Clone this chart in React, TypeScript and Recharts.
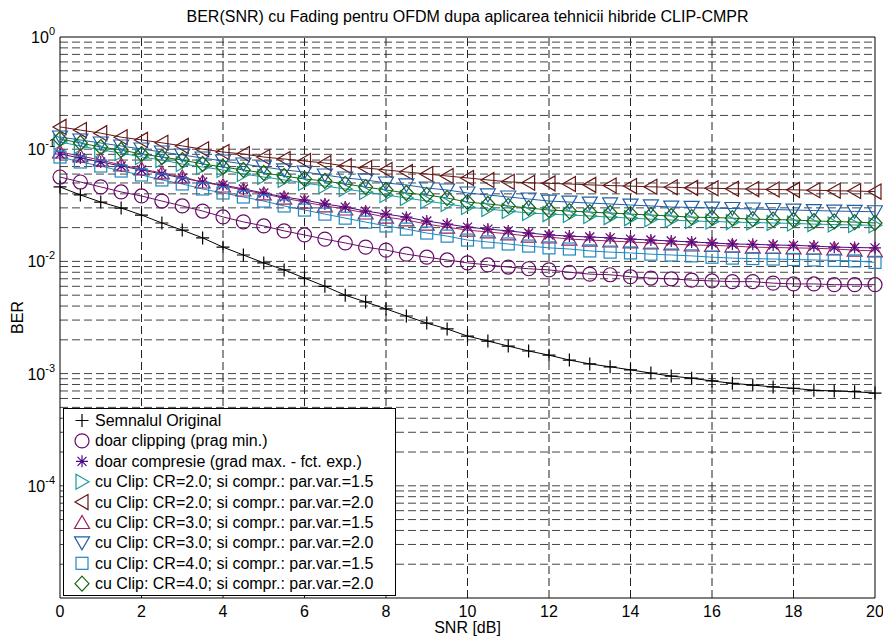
import { Legend, Line, LineChart, ReferenceLine, XAxis, YAxis } from "recharts";

const FONT = '"Liberation Sans", Arial, sans-serif';

// SNR [dB]
const snr = [
  0, 0.5, 1, 1.5, 2, 2.5, 3, 3.5, 4, 4.5, 5, 5.5, 6, 6.5, 7, 7.5, 8, 8.5, 9, 9.5, 10,
  10.5, 11, 11.5, 12, 12.5, 13, 13.5, 14, 14.5, 15, 15.5, 16, 16.5, 17, 17.5, 18, 18.5, 19, 19.5, 20,
];

const original = [
  0.0461, 0.0391, 0.0338, 0.0299, 0.0259, 0.022, 0.019, 0.0162, 0.0134, 0.0114, 0.0097, 0.0084, 0.0071, 0.006,
  0.005, 0.00435, 0.00377, 0.00326, 0.00282, 0.0025, 0.00216, 0.00195, 0.00176, 0.00159, 0.00146, 0.00132,
  0.00122, 0.00115, 0.00108, 0.00101, 0.00095, 0.00091, 0.00086, 0.00082, 0.00079, 0.00076, 0.00074, 0.00071,
  0.0007, 0.00069, 0.00067,
];
const clipping = [
  0.0565, 0.051, 0.0461, 0.0416, 0.0383, 0.0345, 0.0312, 0.0281, 0.0249, 0.0225, 0.0207, 0.0187, 0.0172, 0.0158,
  0.0146, 0.0134, 0.0126, 0.0116, 0.0109, 0.0103, 0.0097, 0.0093, 0.0089, 0.0086, 0.0084, 0.008, 0.0077, 0.0076,
  0.0073, 0.0071, 0.007, 0.0068, 0.0067, 0.0066, 0.0066, 0.0064, 0.0063, 0.0063, 0.0062, 0.0062, 0.0062,
];
const compresie = [
  0.0906, 0.0835, 0.0769, 0.0708, 0.0653, 0.0601, 0.0554, 0.051, 0.048, 0.0442, 0.0407, 0.0375, 0.0352, 0.0325,
  0.0305, 0.0281, 0.0264, 0.0248, 0.0229, 0.0215, 0.0202, 0.0194, 0.0187, 0.0179, 0.0172, 0.0168, 0.0165, 0.0162,
  0.0158, 0.0155, 0.0152, 0.0149, 0.0146, 0.0143, 0.0142, 0.014, 0.0139, 0.0137, 0.0134, 0.0133, 0.0132,
];
const cr2v15 = [
  0.1159, 0.1068, 0.0984, 0.0925, 0.0852, 0.0801, 0.0738, 0.0694, 0.0653, 0.0601, 0.0565, 0.0532, 0.05, 0.047,
  0.0442, 0.0415, 0.0391, 0.0367, 0.0345, 0.0325, 0.0305, 0.0293, 0.0281, 0.027, 0.0264, 0.0259, 0.0254, 0.0248,
  0.0243, 0.0238, 0.0234, 0.0229, 0.0227, 0.0224, 0.0222, 0.022, 0.0218, 0.0215, 0.0213, 0.0211, 0.021,
];
const cr2v20 = [
  0.158, 0.148, 0.139, 0.128, 0.121, 0.114, 0.107, 0.1, 0.0944, 0.0906, 0.0852, 0.0818, 0.0785, 0.0753, 0.0708,
  0.068, 0.0653, 0.0626, 0.0601, 0.0577, 0.0554, 0.0532, 0.0512, 0.0502, 0.0496, 0.049, 0.0481, 0.0474, 0.0469,
  0.0462, 0.0458, 0.0452, 0.0449, 0.0444, 0.0441, 0.0438, 0.0434, 0.0431, 0.0426, 0.0424, 0.0419,
];
const cr3v15 = [
  0.0944, 0.087, 0.0801, 0.0723, 0.0666, 0.0614, 0.0565, 0.051, 0.047, 0.0433, 0.0399, 0.0367, 0.0338, 0.0312,
  0.0293, 0.027, 0.0248, 0.0234, 0.0215, 0.0202, 0.019, 0.0183, 0.0176, 0.0168, 0.0165, 0.0158, 0.0155, 0.0152,
  0.0149, 0.0146, 0.0143, 0.014, 0.0139, 0.0137, 0.0134, 0.0133, 0.0132, 0.0131, 0.0129, 0.0126, 0.0124,
];
const cr3v20 = [
  0.1284, 0.1208, 0.1136, 0.1068, 0.1004, 0.0944, 0.0888, 0.0835, 0.0785, 0.0738, 0.0694, 0.0653, 0.0626, 0.0589,
  0.0554, 0.0532, 0.05, 0.048, 0.0451, 0.0433, 0.0407, 0.0391, 0.0375, 0.036, 0.0345, 0.0338, 0.0331, 0.0325,
  0.0318, 0.0312, 0.0305, 0.0303, 0.0299, 0.0296, 0.0293, 0.029, 0.0287, 0.0284, 0.0281, 0.0279, 0.0277,
];
const cr4v15 = [
  0.0852, 0.0769, 0.0708, 0.0639, 0.0589, 0.0532, 0.049, 0.0442, 0.0407, 0.0375, 0.0345, 0.0312, 0.0287, 0.0264,
  0.0243, 0.0224, 0.0207, 0.0194, 0.0179, 0.0168, 0.0155, 0.0149, 0.0143, 0.0137, 0.0132, 0.0129, 0.0124, 0.0121,
  0.0119, 0.0116, 0.0114, 0.0112, 0.0109, 0.0107, 0.0106, 0.0105, 0.0104, 0.0103, 0.0102, 0.0101, 0.0098,
];
const cr4v20 = [
  0.1233, 0.1136, 0.1046, 0.0984, 0.0906, 0.0852, 0.0801, 0.0738, 0.0694, 0.0653, 0.0614, 0.0577, 0.0543, 0.0521,
  0.049, 0.046, 0.0433, 0.0407, 0.0391, 0.0367, 0.0338, 0.0325, 0.0312, 0.0299, 0.0287, 0.0281, 0.0275, 0.027,
  0.0264, 0.0259, 0.0254, 0.0248, 0.0246, 0.0243, 0.0238, 0.0236, 0.0234, 0.0229, 0.0227, 0.0224, 0.022,
];

const xTicks = [0, 2, 4, 6, 8, 10, 12, 14, 16, 18, 20];
const yTicks = [1, 0.1, 0.01, 0.001, 0.0001];
const xGrid = [2, 4, 6, 8, 10, 12, 14, 16, 18];
// log grid: 1..9 x each decade between 1e-5 and 1
const yGrid: number[] = [];
for (let e = -5; e < 0; e++) {
  for (let m = 1; m <= 9; m++) {
    if (m === 1 && e === -5) continue;
    yGrid.push(m * Math.pow(10, e));
  }
}

type Shape = "plus" | "circle" | "star" | "tri-right" | "tri-left" | "tri-up" | "tri-down" | "square" | "diamond";

const series: Array<{ key: string; name: string; values: number[]; color: string; shape: Shape }> = [
  { key: "orig", name: "Semnalul Original", values: original, color: "#000000", shape: "plus" },
  { key: "clip", name: "doar clipping (prag min.)", values: clipping, color: "#6a0a6a", shape: "circle" },
  { key: "comp", name: "doar compresie (grad max. - fct. exp.)", values: compresie, color: "#4a0a8c", shape: "star" },
  { key: "c2v15", name: "cu Clip: CR=2.0; si compr.: par.var.=1.5", values: cr2v15, color: "#1a9a9a", shape: "tri-right" },
  { key: "c2v20", name: "cu Clip: CR=2.0; si compr.: par.var.=2.0", values: cr2v20, color: "#661515", shape: "tri-left" },
  { key: "c3v15", name: "cu Clip: CR=3.0; si compr.: par.var.=1.5", values: cr3v15, color: "#9c1f5e", shape: "tri-up" },
  { key: "c3v20", name: "cu Clip: CR=3.0; si compr.: par.var.=2.0", values: cr3v20, color: "#1f5fa6", shape: "tri-down" },
  { key: "c4v15", name: "cu Clip: CR=4.0; si compr.: par.var.=1.5", values: cr4v15, color: "#1f88c0", shape: "square" },
  { key: "c4v20", name: "cu Clip: CR=4.0; si compr.: par.var.=2.0", values: cr4v20, color: "#166616", shape: "diamond" },
];

const rows = snr.map((x, i) => {
  const row: Record<string, number> = { snr: x };
  series.forEach((s) => (row[s.key] = s.values[i]));
  return row;
});

function Marker({ shape, cx, cy, color }: { shape: Shape; cx: number; cy: number; color: string }) {
  const p = { fill: "none", stroke: color, strokeWidth: 1.2 };
  switch (shape) {
    case "plus":
      return <path {...p} d={`M${cx - 6.5},${cy}H${cx + 6.5}M${cx},${cy - 6.5}V${cy + 6.5}`} />;
    case "circle":
      return <circle {...p} cx={cx} cy={cy} r={7} />;
    case "star":
      return (
        <path
          {...p}
          d={`M${cx - 6},${cy}H${cx + 6}M${cx},${cy - 6}V${cy + 6}M${cx - 4.5},${cy - 4.5}L${cx + 4.5},${cy + 4.5}M${cx - 4.5},${cy + 4.5}L${cx + 4.5},${cy - 4.5}`}
        />
      );
    case "tri-right":
      return <polygon {...p} points={`${cx + 7},${cy} ${cx - 6},${cy - 7.5} ${cx - 6},${cy + 7.5}`} />;
    case "tri-left":
      return <polygon {...p} points={`${cx - 7},${cy} ${cx + 6},${cy - 7.5} ${cx + 6},${cy + 7.5}`} />;
    case "tri-up":
      return <polygon {...p} points={`${cx},${cy - 7} ${cx - 7.5},${cy + 6} ${cx + 7.5},${cy + 6}`} />;
    case "tri-down":
      return <polygon {...p} points={`${cx},${cy + 7} ${cx - 7.5},${cy - 6} ${cx + 7.5},${cy - 6}`} />;
    case "square":
      return <rect {...p} x={cx - 6} y={cy - 6} width={12} height={12} />;
    case "diamond":
      return <polygon {...p} points={`${cx},${cy - 7.5} ${cx + 7},${cy} ${cx},${cy + 7.5} ${cx - 7},${cy}`} />;
  }
}

function YTick(props: any) {
  const { x, y, payload } = props;
  const exp = Math.round(Math.log10(payload.value));
  return (
    <text x={x + 3} y={y + 6} textAnchor="end" fontSize={16} fontFamily={FONT} fill="#000">
      10
      <tspan dy={-8} fontSize={11}>
        {exp}
      </tspan>
    </text>
  );
}

function LegendBox() {
  return (
    <svg width={333} height={188} style={{ display: "block" }}>
      <rect x={0.5} y={0.5} width={332} height={187} fill="#fff" stroke="#000" strokeWidth={1} />
      {series.map((s, i) => {
        const cy = 12.5 + i * 20.4;
        return (
          <g key={s.key}>
            <Marker shape={s.shape} cx={19} cy={cy} color={s.color} />
            <text x={32} y={cy + 5.5} fontSize={16} fontFamily={FONT} fill="#000">
              {s.name}
            </text>
          </g>
        );
      })}
    </svg>
  );
}

export default function App() {
  return (
    <div style={{ position: "relative", width: 883, height: 639, background: "#fff" }}>
      <style>{`body{margin:0}`}</style>
      <div
        style={{
          position: "absolute",
          left: 60,
          width: 815,
          top: 8,
          textAlign: "center",
          fontFamily: FONT,
          fontSize: 16,
          lineHeight: "18px",
          color: "#000",
        }}
      >
        BER(SNR) cu Fading pentru OFDM dupa aplicarea tehnicii hibride CLIP-CMPR
      </div>
      <LineChart width={883} height={639} data={rows} margin={{ top: 37, right: 8, bottom: 0, left: 0 }}>
        <XAxis
          dataKey="snr"
          type="number"
          domain={[0, 20]}
          ticks={xTicks}
          height={41}
          stroke="#000"
          tickLine={false}
          tick={{ fontSize: 16, fill: "#000", fontFamily: FONT }}
          label={{ value: "SNR [dB]", position: "insideBottom", offset: 6, fontSize: 16, fill: "#000", fontFamily: FONT }}
        />
        <YAxis
          type="number"
          scale="log"
          domain={[0.00001, 1]}
          ticks={yTicks}
          allowDataOverflow
          width={60}
          stroke="#000"
          tickLine={false}
          tick={<YTick />}
          label={{
            value: "BER",
            angle: -90,
            position: "insideLeft",
            offset: 17,
            fontSize: 16,
            fill: "#000",
            fontFamily: FONT,
            style: { textAnchor: "middle" },
          }}
        />
        {yGrid.map((v) => (
          <ReferenceLine key={`gy${v}`} y={v} stroke="#444" strokeDasharray="8 4" />
        ))}
        {xGrid.map((v) => (
          <ReferenceLine key={`gx${v}`} x={v} stroke="#222" strokeDasharray="8 4" />
        ))}
        <ReferenceLine y={1} stroke="#000" />
        <ReferenceLine x={20} stroke="#000" />
        {series.map((s) => (
          <Line
            key={s.key}
            dataKey={s.key}
            name={s.name}
            type="linear"
            stroke={s.color}
            strokeWidth={1}
            isAnimationActive={false}
            dot={(d: any) => <Marker key={`${s.key}-${d.index}`} shape={s.shape} cx={d.cx} cy={d.cy} color={s.color} />}
          />
        ))}
        <Legend
          layout="vertical"
          align="center"
          verticalAlign="middle"
          content={() => <LegendBox />}
          wrapperStyle={{ left: 63, top: 408, width: 333, height: 188 }}
        />
      </LineChart>
    </div>
  );
}
